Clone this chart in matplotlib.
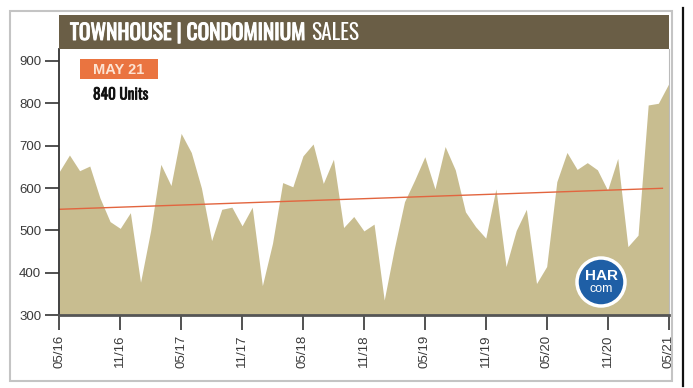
import numpy as np
import matplotlib
matplotlib.use("Agg")
import matplotlib.pyplot as plt
import matplotlib.patheffects as pe
from matplotlib.patches import Rectangle, Circle
from matplotlib.transforms import IdentityTransform

# ---- data ----
tick_labels = ["05/16", "11/16", "05/17", "11/17", "05/18", "11/18",
               "05/19", "11/19", "05/20", "11/20", "05/21"]
sales = [639, 678, 641, 652, 577, 521, 505, 542, 378, 500,
         656, 606, 729, 684, 600, 476, 550, 555, 511, 555,
         370, 470, 613, 603, 676, 704, 611, 668, 507, 533,
         499, 515, 336, 458, 568, 619, 674, 598, 698, 643,
         544, 509, 482, 598, 415, 500, 550, 375, 415, 615,
         684, 644, 660, 643, 595, 670, 462, 489, 796, 800, 845]
trend_start, trend_end = 550, 600
y_ticks = [300, 400, 500, 600, 700, 800, 900]
title_bold = "TOWNHOUSE | CONDOMINIUM"
title_regular = "SALES"
badge_text = "MAY 21"
units_text = "840 Units"

W, H = 693, 388
fig = plt.figure(figsize=(W / 100, H / 100), dpi=100)
fig.patch.set_facecolor("white")

def fx(px):
    return px / W

def fy(py):
    return 1 - py / H

cond = ["Oswald", "Roboto Condensed", "IBM Plex Sans Condensed",
        "Open Sans Condensed", "DejaVu Sans"]
arial = ["Liberation Sans", "DejaVu Sans"]

# outer frame
fig.add_artist(Rectangle((fx(10), fy(381)), fx(672 - 10), (381 - 11) / H,
                         transform=fig.transFigure, fill=False,
                         edgecolor="#c4c4c4", linewidth=1.5))
fig.add_artist(plt.Line2D([fx(682.5), fx(682.5)], [fy(8), fy(386)],
                          transform=fig.transFigure, color="#111111", linewidth=1.6))

left, right = 59.3, 668.5
top, bottom = 49, 315.3
ax = fig.add_axes([fx(left), fy(bottom), (right - left) / W, (bottom - top) / H])

x = np.arange(len(sales))
ax.fill_between(x, 300, sales, color="#c8bd90", linewidth=0, zorder=1)
n = len(sales) - 1
x_end = n - 0.6
ax.plot([0, x_end], [trend_start, trend_start + (trend_end - trend_start) * x_end / n],
        color="#e2653f", linewidth=1.0, zorder=2)

ax.set_xlim(0, n)
ax.set_ylim(300, 928)
ax.set_xticks(np.arange(0, len(sales), 6))
ax.set_xticklabels(tick_labels, rotation=90, fontsize=9.5, color="#3a3a3a", family=arial)
ax.set_yticks(y_ticks)
ax.set_yticklabels([str(v) for v in y_ticks], fontsize=9.5, color="#3a3a3a", family=arial)
ax.tick_params(axis="y", length=10, width=1.2, color="#333333", pad=3)
ax.tick_params(axis="x", length=11, width=1.2, color="#333333", pad=3)
ax.spines["top"].set_visible(False)
ax.spines["right"].set_color("#bbbbbb")
ax.spines["right"].set_linewidth(0.8)
ax.spines["left"].set_color("#333333")
ax.spines["left"].set_linewidth(1.3)
ax.spines["bottom"].set_color("#555555")
ax.spines["bottom"].set_linewidth(2.0)
ax.set_facecolor("white")

# title band
fig.add_artist(Rectangle((fx(59), fy(49)), fx(669 - 59), (49 - 15) / H,
                         transform=fig.transFigure, facecolor="#6a5e46",
                         edgecolor="none"))
bold_white = [pe.withStroke(linewidth=0.7, foreground="white")]
t1 = fig.text(fx(70), fy(33), title_bold, color="white", fontsize=17,
              fontweight="bold", family=cond, va="center", ha="left", zorder=3,
              path_effects=bold_white)
fig.canvas.draw()
r = fig.canvas.get_renderer()
w = t1.get_window_extent(r).width
target = 236.0
if w > 0:
    t1.set_fontsize(min(20, 17 * target / w))
fig.canvas.draw()
bb = t1.get_window_extent(r)
fig.text((bb.x1 + 5) / W, fy(33), title_regular, color="white",
         fontsize=t1.get_fontsize(), fontweight="normal", family=cond,
         va="center", ha="left", zorder=3)

# badge
fig.add_artist(Rectangle((fx(80), fy(79)), fx(158 - 80), (79 - 59) / H,
                         transform=fig.transFigure, facecolor="#ea7440",
                         edgecolor="none"))
fig.text(fx(119), fy(69.5), badge_text, color="#fde3d2", fontsize=10.5,
         fontweight="bold", family=arial, ha="center", va="center")
fig.text(fx(93), fy(95), units_text, color="#111111", fontsize=11,
         fontweight="bold", family=cond, ha="left", va="center",
         path_effects=[pe.withStroke(linewidth=0.5, foreground="#111111")])

# HAR logo
cx, cy, rad = 601, 282, 24
fig.add_artist(Circle((cx, H - cy), radius=rad, transform=IdentityTransform(),
                      facecolor="#1f5fa6", edgecolor="white", linewidth=2.5,
                      zorder=5))
fig.text(fx(cx), fy(cy - 6), "HAR", color="white", fontsize=11, fontweight="bold",
         ha="center", va="center", family=arial, zorder=6)
fig.text(fx(cx), fy(cy + 7), "com", color="white", fontsize=9,
         ha="center", va="center", family=arial, zorder=6)

fig.savefig("out.png", dpi=100)
